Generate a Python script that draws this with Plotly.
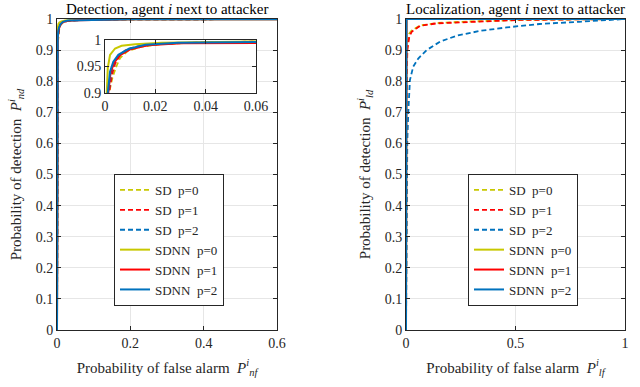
import plotly.graph_objects as go

# ======================
# DATA
# ======================
labels = ["SD\u00a0 p=0", "SD\u00a0 p=1", "SD\u00a0 p=2",
          "SDNN\u00a0 p=0", "SDNN\u00a0 p=1", "SDNN\u00a0 p=2"]
colors = ["#c8c800", "#ff0000", "#0072bd", "#c8c800", "#ff0000", "#0072bd"]
dashes = ["dash", "dash", "dash", "solid", "solid", "solid"]

# detection ROC (P_nf, P_nd)
det_sd0_x = [0, 0.0008, 0.0016, 0.003, 0.0045, 0.006, 0.009, 0.014, 0.022, 0.035, 0.06, 0.2, 1]
det_sd0_y = [0, 0.85, 0.9, 0.93, 0.95, 0.966, 0.979, 0.987, 0.992, 0.995, 0.997, 0.999, 1]
det_sd1_x = [0, 0.0008, 0.0016, 0.0028, 0.004, 0.0055, 0.008, 0.012, 0.02, 0.035, 0.06, 0.2, 1]
det_sd1_y = [0, 0.85, 0.9, 0.935, 0.955, 0.968, 0.98, 0.987, 0.992, 0.995, 0.997, 0.999, 1]
det_sd2_x = [0, 0.0008, 0.0014, 0.0025, 0.0038, 0.0055, 0.009, 0.015, 0.028, 0.06, 0.2, 1]
det_sd2_y = [0, 0.85, 0.9, 0.94, 0.958, 0.971, 0.983, 0.99, 0.994, 0.996, 0.999, 1]
det_nn0_x = [0, 0.0005, 0.0007, 0.0011, 0.002, 0.004, 0.0066, 0.012, 0.0225, 0.06, 0.2, 1]
det_nn0_y = [0, 0.85, 0.9, 0.947, 0.972, 0.984, 0.989, 0.992, 0.995, 0.997, 0.999, 1]
det_nn1_x = [0, 0.0008, 0.0013, 0.0022, 0.0036, 0.0058, 0.0098, 0.017, 0.03, 0.06, 0.2, 1]
det_nn1_y = [0, 0.85, 0.9, 0.938, 0.957, 0.971, 0.982, 0.99, 0.994, 0.996, 0.999, 1]
det_nn2_x = [0, 0.0007, 0.0011, 0.002, 0.0033, 0.0053, 0.0093, 0.016, 0.029, 0.06, 0.2, 1]
det_nn2_y = [0, 0.85, 0.9, 0.94, 0.959, 0.972, 0.983, 0.991, 0.995, 0.996, 0.999, 1]

# localization ROC (P_lf, P_ld)
loc_sd0_x = [0, 0.001, 0.003, 0.006, 0.015, 0.026, 0.064, 0.14, 0.29, 0.52, 1]
loc_sd0_y = [0, 0.6, 0.8, 0.91, 0.953, 0.963, 0.979, 0.987, 0.992, 0.997, 1]
loc_sd1_x = [0, 0.001, 0.003, 0.006, 0.015, 0.026, 0.064, 0.14, 0.29, 0.52, 1]
loc_sd1_y = [0, 0.55, 0.78, 0.9, 0.943, 0.959, 0.978, 0.986, 0.991, 0.997, 1]
loc_sd2_x = [0, 0.002, 0.006, 0.011, 0.018, 0.033, 0.056, 0.094, 0.155, 0.23,
             0.34, 0.46, 0.61, 0.79, 0.98, 1]
loc_sd2_y = [0, 0.45, 0.61, 0.707, 0.804, 0.847, 0.873, 0.9, 0.927, 0.946,
             0.962, 0.973, 0.984, 0.991, 0.997, 1]
loc_nn0_x = [0, 0.0005, 0.002, 1]
loc_nn0_y = [0, 0.99, 1, 1]
loc_nn1_x = [0, 0.0005, 0.002, 1]
loc_nn1_y = [0, 0.99, 1, 1]
loc_nn2_x = [0, 0.0005, 0.002, 1]
loc_nn2_y = [0, 0.99, 1, 1]

det_x = [det_sd0_x, det_sd1_x, det_sd2_x, det_nn0_x, det_nn1_x, det_nn2_x]
det_y = [det_sd0_y, det_sd1_y, det_sd2_y, det_nn0_y, det_nn1_y, det_nn2_y]
loc_x = [loc_sd0_x, loc_sd1_x, loc_sd2_x, loc_nn0_x, loc_nn1_x, loc_nn2_x]
loc_y = [loc_sd0_y, loc_sd1_y, loc_sd2_y, loc_nn0_y, loc_nn1_y, loc_nn2_y]

FONT = "Liberation Serif, Times New Roman, Times, DejaVu Serif, serif"
INK = "#262626"
GRID = "#e6e6e6"

W, H = 640, 387


def px_x(p):
    return p / W


def px_y(p):
    return 1 - p / H


fig = go.Figure()

for i, lab in enumerate(labels):
    w = 2 if dashes[i] == "solid" else 1.8
    line = dict(color=colors[i], width=w, dash="5px,3px" if dashes[i] == "dash" else "solid")
    fig.add_trace(go.Scatter(x=det_x[i], y=det_y[i], mode="lines", name=lab, line=line,
                             xaxis="x", yaxis="y", legend="legend"))
    fig.add_trace(go.Scatter(x=loc_x[i], y=loc_y[i], mode="lines", name=lab, line=line,
                             xaxis="x2", yaxis="y2", legend="legend2"))
    fig.add_trace(go.Scatter(x=det_x[i], y=det_y[i], mode="lines", name=lab, line=line,
                             xaxis="x3", yaxis="y3", showlegend=False))


def ax(**kw):
    base = dict(showline=True, linecolor=INK, linewidth=1, mirror="ticks",
                ticks="inside", ticklen=4, tickcolor=INK, showgrid=True,
                gridcolor=GRID, zeroline=False, automargin=False,
                tickfont=dict(family=FONT, size=14, color=INK))
    base.update(kw)
    return base


y_dom = [px_y(330), px_y(19)]
legend_style = dict(y=px_y(240), xanchor="left", yanchor="middle",
                    bordercolor=INK, borderwidth=1, bgcolor="white",
                    font=dict(family=FONT, size=13, color=INK), itemwidth=30, tracegroupgap=0)
fig.update_layout(
    template="none",
    width=W, height=H,
    margin=dict(l=0, r=0, t=0, b=0),
    paper_bgcolor="white", plot_bgcolor="white",
    font=dict(family=FONT, size=14, color=INK),
    xaxis=ax(domain=[px_x(57), px_x(277)], range=[0, 0.6], tickvals=[0, 0.2, 0.4, 0.6],
             ticktext=["0", "0.2", "0.4", "0.6"], anchor="y",
             title=dict(text="Probability of false alarm  <i>P</i><sup><i>i</i></sup><sub><i>nf</i></sub>",
                        font=dict(family=FONT, size=15), standoff=12)),
    yaxis=ax(domain=y_dom, range=[0, 1], dtick=0.1, anchor="x",
             title=dict(text="Probability of detection  <i>P</i><sup><i>i</i></sup><sub><i>nd</i></sub>",
                        font=dict(family=FONT, size=15), standoff=10)),
    xaxis2=ax(domain=[px_x(406), px_x(625)], range=[0, 1], tickvals=[0, 0.5, 1], anchor="y2",
              title=dict(text="Probability of false alarm  <i>P</i><sup><i>i</i></sup><sub><i>lf</i></sub>",
                         font=dict(family=FONT, size=15), standoff=12)),
    yaxis2=ax(domain=y_dom, range=[0, 1], dtick=0.1, anchor="x2",
              title=dict(text="Probability of detection  <i>P</i><sup><i>i</i></sup><sub><i>ld</i></sub>",
                         font=dict(family=FONT, size=15), standoff=10)),
    xaxis3=ax(domain=[px_x(105), px_x(256)], range=[0, 0.06], tickvals=[0, 0.02, 0.04, 0.06],
              ticktext=["0", "0.02", "0.04", "0.06"], anchor="y3"),
    yaxis3=ax(domain=[px_y(93), px_y(40)], range=[0.9, 1], tickvals=[0.9, 0.95, 1],
              ticktext=["0.9", "0.95", "1"], anchor="x3"),
    legend=dict(x=px_x(114), **legend_style),
    legend2=dict(x=px_x(468), **legend_style),
    showlegend=True,
)

# subplot titles
fig.add_annotation(text="Detection, agent <i>i</i> next to attacker", x=px_x(167), y=px_y(9),
                   xref="paper", yref="paper", xanchor="center", yanchor="middle",
                   showarrow=False, font=dict(family=FONT, size=15, color="black"))
fig.add_annotation(text="Localization, agent <i>i</i> next to attacker", x=px_x(515), y=px_y(9),
                   xref="paper", yref="paper", xanchor="center", yanchor="middle",
                   showarrow=False, font=dict(family=FONT, size=15, color="black"))

# drop the default 8px page margin so the figure sits at the window's corner
fig.write_html("out.html", config={"displayModeBar": False},
               post_script="document.body.style.margin = '0';")
